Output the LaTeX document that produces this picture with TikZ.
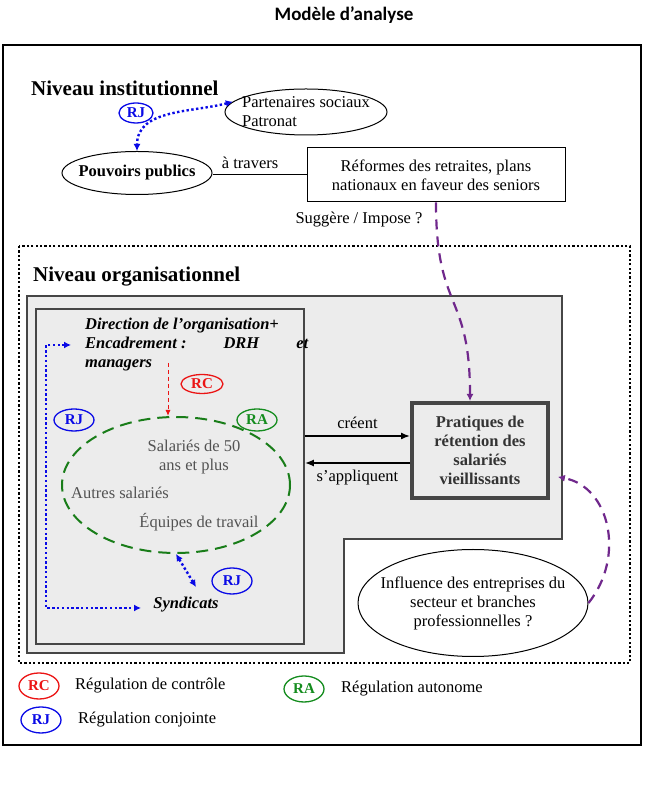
\documentclass[tikz,border=0pt]{standalone}
\usepackage{fontspec}
\setmainfont{Liberation Serif}
\newfontfamily\titlefont{Carlito}
\usepackage{tikz}
\usetikzlibrary{arrows.meta,shapes.geometric}
\usepackage{xcolor}
\definecolor{rjblue}{RGB}{10,10,230}
\definecolor{rcred}{RGB}{235,20,20}
\definecolor{ragreen}{RGB}{20,140,30}
\definecolor{dashgreen}{RGB}{25,125,25}
\definecolor{purp}{RGB}{112,40,140}
\definecolor{greyfill}{RGB}{236,236,236}
\definecolor{darkline}{RGB}{70,70,70}
\newcommand\bodysize{\fontsize{16.5}{19}\selectfont}
\newcommand\levelsize{\fontsize{21}{24}\selectfont}
\tikzset{every node/.style={font=\bodysize},
         reg/.style={ellipse, draw, line width=1.3pt, inner sep=0pt,
                     minimum width=40pt, minimum height=24pt,
                     font=\bfseries\fontsize{15}{17}\selectfont},
         rj/.style={reg, draw=rjblue, text=rjblue},
         rc/.style={reg, draw=rcred, text=rcred},
         ra/.style={reg, draw=ragreen, text=ragreen},
         acteur/.style={ellipse, draw, line width=1pt, fill=white, inner ysep=0pt, align=center},
         level/.style={font=\bfseries\levelsize, anchor=west, inner sep=0pt},
         legtext/.style={anchor=west, inner sep=0pt},
         greytext/.style={text=black!68},
         zone/.style={draw=darkline, line width=1.2pt, fill=greyfill},
         pointille/.style={line width=2.4pt, dash pattern=on 2.2pt off 2.2pt},
         rjline/.style={draw=rjblue, line width=2.4pt, dash pattern=on 2.4pt off 2.4pt,
                        {Latex[length=7pt,width=7pt]}-{Latex[length=7pt,width=7pt]}},
         purpline/.style={draw=purp, line width=2.2pt, dash pattern=on 10pt off 7pt,
                          -{Latex[length=7pt,width=7pt]}},
         rcline/.style={draw=rcred, line width=1pt, dash pattern=on 4pt off 3pt,
                        -{Latex[length=6pt,width=5pt]}},
         flow/.style={draw=black, line width=1.5pt, -{Latex[length=9pt,width=7pt]}}}

\begin{document}
\begin{tikzpicture}[x=1pt,y=1pt]
	\useasboundingbox (0,0) rectangle (646,787);
	\node[font=\titlefont\bfseries\fontsize{19}{22}\selectfont] (titre) at (344,772) {Modèle d’analyse};
	\draw[line width=1.6pt] (3,742) rectangle (641,42);

	\node[level] (nivinst) at (31,699) {Niveau institutionnel};
	\node[rj, minimum width=34pt, minimum height=20pt] (rjinst) at (136,674) {RJ};
	\node[acteur, inner xsep=-10pt, minimum width=162pt, minimum height=46pt, align=left] (partenaires) at (306,675)
		{Partenaires sociaux\\Patronat};
	\node[acteur, inner xsep=-8pt, minimum width=150pt, minimum height=43pt, font=\bfseries\bodysize] (pouvoirs) at (137,614)
		{Pouvoirs publics};
	\node[draw, line width=1pt, minimum width=258pt, minimum height=54pt, align=center] (reformes) at (436,612)
		{Réformes des retraites, plans\\nationaux en faveur des seniors};
	\draw[line width=1pt] (reformes.west -| pouvoirs.east) -- (reformes.west)
		node[pos=0.4, above=2pt] {à travers};
	\draw[rjline] (partenaires.172) to[out=195,in=90] (pouvoirs.north);
	\node (suggere) at (359,567) {Suggère / Impose ?};

	\draw[pointille] (19,541) rectangle (630,124);
	\node[level] (nivorg) at (33,510) {Niveau organisationnel};
	\draw[zone] (27,491) -- (562,491) -- (562,248) -- (344,248) -- (344,134) -- (27,134) -- cycle;
	\node[draw=darkline, line width=1.8pt, fill=greyfill, minimum width=268pt, minimum height=335pt] (orga)
		at (170,310.5) {};

	\node[anchor=west, align=left, inner sep=0pt, font=\bfseries\itshape\bodysize] (direction) at (85,442)
		{Direction de l’organisation+\\\makebox[223pt][l]{Encadrement :\hfill DRH\hfill et}\\managers};
	\node[rc, minimum width=42pt, minimum height=19pt] (rcorga) at (202,403) {RC};
	\node[rj, minimum height=22pt] (rjorga) at (74,367) {RJ};
	\node[ra, minimum height=22pt] (raorga) at (257,367) {RA};
	\node[ellipse, draw=dashgreen, line width=2pt, dash pattern=on 12pt off 7pt,
		minimum width=228pt, minimum height=136pt] (groupe) at (176,302) {};
	\node[greytext, align=center] (salaries) at (194,330) {Salariés de 50\\ans et plus};
	\node[greytext, legtext] (autres) at (71,294) {Autres salariés};
	\node[greytext] (equipes) at (199,265) {Équipes de travail};
	\coordinate (rcstart) at (168,424);
	\draw[rcline] (rcstart) -- (rcstart |- groupe.north);

	\node[draw=darkline, line width=4pt, fill=greyfill, minimum width=136pt, minimum height=95pt,
		align=center, text=black!80, font=\bfseries\bodysize] (pratiques) at (480,336.5)
		{Pratiques de\\rétention des\\salariés\\vieillissants};
	\draw[flow] (orga.east |- 0,351) -- (pratiques.west |- 0,351) node[midway, above=3pt] {créent};
	\draw[flow] (pratiques.west |- 0,324) -- (orga.east |- 0,324) node[midway, below=3pt] {s’appliquent};

	\node[font=\bfseries\itshape\bodysize] (syndicats) at (186,182) {Syndicats};
	\node[rj, minimum height=26pt] (rjsynd) at (232,206) {RJ};
	\coordinate (syndtop) at (196,200);
	\draw[rjline] (groupe.south) -- (syndtop);
	\coordinate (dirtip) at (71,442);
	\coordinate (syndtip) at (141,179);
	\draw[rjline] (dirtip) -- (46,442) |- (syndtip);

	\node[acteur, inner xsep=-12pt, minimum width=230pt, minimum height=107pt] (influence) at (473,184)
		{Influence des entreprises du\\secteur et branches\\professionnelles ?};
	\draw[purpline] (reformes.south) .. controls +(0,-110) and +(0,110) .. ([xshift=-10pt]pratiques.north);
	\draw[purpline, shorten >=8pt] (influence.east) .. controls +(37,46) and +(60,-11) .. ([yshift=-25pt]pratiques.east);

	\node[rc, minimum height=26pt] (legrc) at (39,101) {RC};
	\node[legtext] (legrctext) at (75,101) {Régulation de contrôle};
	\node[rj, minimum height=26pt] (legrj) at (41,67) {RJ};
	\node[legtext] (legrjtext) at (78,67) {Régulation conjointe};
	\node[ra, minimum height=26pt] (legra) at (304,98) {RA};
	\node[legtext] (legratext) at (341,98) {Régulation autonome};
\end{tikzpicture}
\end{document}
